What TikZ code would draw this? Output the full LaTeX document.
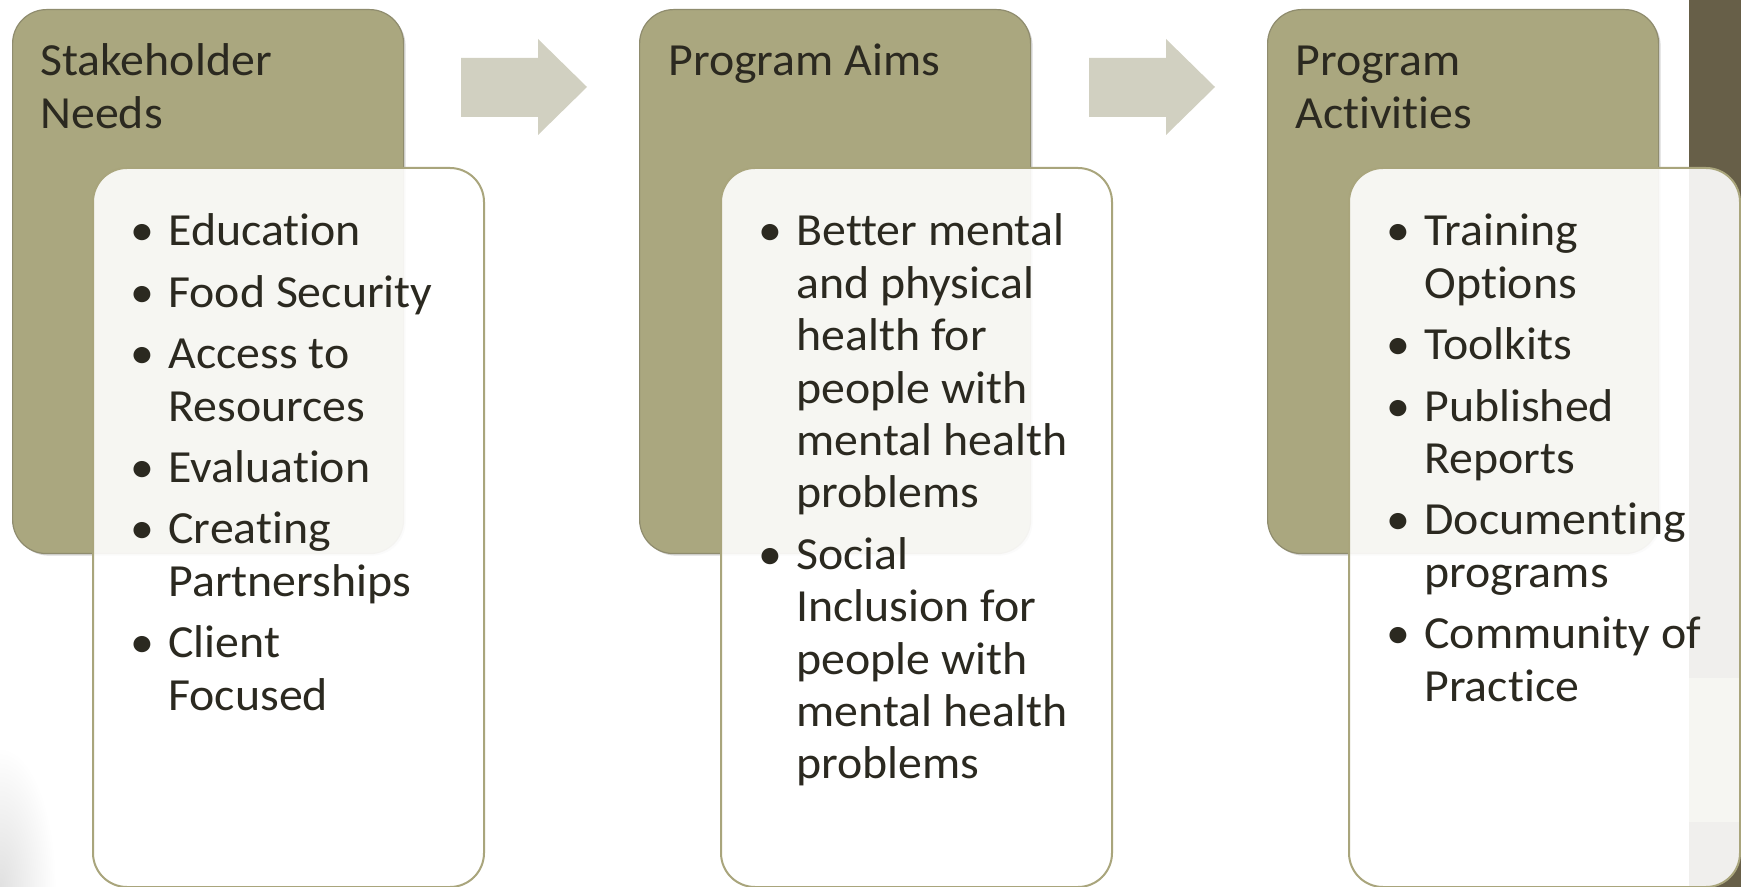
\documentclass[tikz,border=0pt]{standalone}
\usepackage{fontspec}
\setmainfont[FakeStretch=1.04, Ligatures=NoCommon]{Carlito}
\usetikzlibrary{positioning,shadows}

\definecolor{Olive}{HTML}{AAA77F}
\definecolor{OliveLine}{HTML}{8F8C6E}
\definecolor{ListLine}{HTML}{A9A57C}
\definecolor{ArrowGrey}{HTML}{D1D0C1}
\definecolor{Band}{HTML}{675F48}
\definecolor{Ink}{HTML}{2B2920}

\newcommand{\Bul}{\makebox[19pt][l]{\textbullet}}
\newcommand{\Ind}{\hspace*{19pt}}
\newcommand{\Lines}[1]{\parbox[t]{190pt}{\raggedright #1}}

\begin{document}
\begin{tikzpicture}[x=0.5pt,y=-0.5pt]
  \tikzset{HeadBox/.style = {draw=OliveLine, line width=0.6pt, fill=Olive, rounded corners=17pt,
      minimum width=195.5pt, minimum height=272pt, anchor=north west,
      drop shadow={opacity=0.3, shadow xshift=1pt, shadow yshift=-1pt}}}
  \tikzset{ListBox/.style = {draw=ListLine, line width=1pt, fill=white, fill opacity=0.9,
      rounded corners=17pt, minimum width=195.5pt, minimum height=359.5pt}}
  \tikzset{BoxText/.style = {text=Ink, inner sep=0pt, font=\fontsize{23}{26.2}\selectfont}}
  \tikzset{StepArrow/.style = {fill=ArrowGrey}}

  \useasboundingbox (0,0) rectangle (1741,887);
  \fill[white] (0,0) rectangle (1741,887);
  \shade[inner color=black!12, outer color=white] (0,887) ellipse[x radius=28pt, y radius=70pt];
  \fill[Band] (1689,0) rectangle (1741,887);
  \fill[Olive] (1689,678) rectangle (1741,822);

  \node[HeadBox] (need) at (12,9) {};
  \node[HeadBox] (aim) at (639,9) {};
  \node[HeadBox] (act) at (1267,9) {};

  \node[BoxText, below right=33.5pt and 14pt of need.north west, anchor=base west] (needT)
    {\Lines{Stakeholder\\Needs}};
  \node[BoxText, below right=33.5pt and 14.5pt of aim.north west, anchor=base west] (aimT)
    {\Lines{Program Aims}};
  \node[BoxText, below right=33.5pt and 14pt of act.north west, anchor=base west] (actT)
    {\Lines{Program\\Activities}};

  \foreach \s in {0,628}
    \fill[StepArrow, shift={(\s,0)}] (461,58) -- (538,58) -- (538,39) -- (587,87)
      -- (538,135) -- (538,117) -- (461,117) -- cycle;

  \node[ListBox, below right=79pt and 40pt of need.north west] (needL) {};
  \node[ListBox, below right=79pt and 40.5pt of aim.north west] (aimL) {};
  \node[ListBox, below right=79pt and 40.5pt of act.north west] (actL) {};

  \node[BoxText, below right=39.5pt and 19pt of needL.north west, anchor=base west] (needI)
    {\Lines{\Bul Education\\[4.5pt]
     \Bul Food Security\\[4.5pt]
     \Bul Access to\\ \Ind Resources\\[4.5pt]
     \Bul Evaluation\\[4.5pt]
     \Bul Creating\\ \Ind Partnerships\\[4.5pt]
     \Bul Client\\ \Ind Focused}};
  \node[BoxText, below right=39.5pt and 19pt of aimL.north west, anchor=base west] (aimI)
    {\Lines{\Bul Better mental\\ \Ind and physical\\ \Ind health for\\
     \Ind people with\\ \Ind mental health\\ \Ind problems\\[4.5pt]
     \Bul Social\\ \Ind Inclusion for\\ \Ind people with\\ \Ind mental health\\
     \Ind problems}};
  \node[BoxText, below right=39.5pt and 19pt of actL.north west, anchor=base west] (actI)
    {\Lines{\Bul Training\\ \Ind Options\\[4.5pt]
     \Bul Toolkits\\[4.5pt]
     \Bul Published\\ \Ind Reports\\[4.5pt]
     \Bul Documenting\\ \Ind programs\\[4.5pt]
     \Bul Community of\\ \Ind Practice}};
\end{tikzpicture}
\end{document}
